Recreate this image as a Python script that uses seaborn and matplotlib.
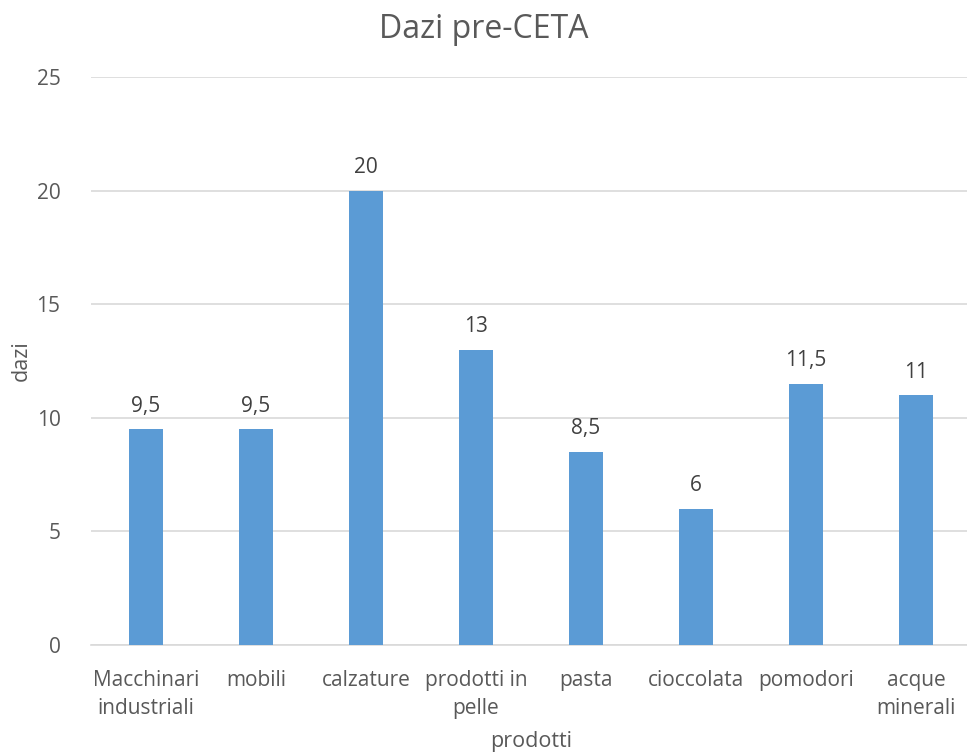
import matplotlib
matplotlib.use("Agg")
import matplotlib.pyplot as plt
import seaborn as sns
import pandas as pd

categories = ["Macchinari\nindustriali", "mobili", "calzature", "prodotti in\npelle",
              "pasta", "cioccolata", "pomodori", "acque\nminerali"]
values = [9.5, 9.5, 20, 13, 8.5, 6, 11.5, 11]
value_labels = ["9,5", "9,5", "20", "13", "8,5", "6", "11,5", "11"]
yticks = [0, 5, 10, 15, 20, 25]

sns.set_theme(style="white")
plt.rcParams['font.family'] = ['Open Sans', 'DejaVu Sans']
TXT = "#595959"

df = pd.DataFrame({"prodotti": categories, "dazi": values})

fig = plt.figure(figsize=(9.67, 7.55), dpi=100)
ax = fig.add_axes([91/967, 110/755, 880/967, 568/755])

sns.barplot(data=df, x="prodotti", y="dazi", color="#5B9BD5", width=0.31,
            saturation=1, linewidth=0, ax=ax, zorder=3)

ax.set_ylim(0, 25)
ax.set_xlim(-0.5, 7.5)
ax.set_yticks(yticks)
ax.set_yticklabels([str(t) for t in yticks])
ax.yaxis.grid(True, color="#D9D9D9", linewidth=1.2, zorder=0)
for s in ["top", "right", "left"]:
    ax.spines[s].set_visible(False)
ax.spines["bottom"].set_color("#D9D9D9")
ax.spines["bottom"].set_linewidth(1.2)
ax.tick_params(axis="both", length=0, labelsize=15, colors=TXT)
ax.tick_params(axis="x", pad=18)
ax.tick_params(axis="y", pad=22)
for lbl in ax.get_xticklabels():
    lbl.set_linespacing(1.45)

for container in ax.containers:
    ax.bar_label(container, labels=value_labels, padding=9, fontsize=15, color="#404040")

ax.set_xlabel("prodotti", fontsize=15.5, color=TXT, va="center")
ax.set_ylabel("dazi", fontsize=15.5, color=TXT, va="center")
ax.xaxis.set_label_coords(0.5, (645 - 741) / 568)
ax.yaxis.set_label_coords((21 - 91) / 880, 0.5)
fig.text(0.5, 1 - 29/755, "Dazi pre-CETA", ha="center", va="center", fontsize=23, color=TXT)

fig.savefig("out.png", dpi=100)
